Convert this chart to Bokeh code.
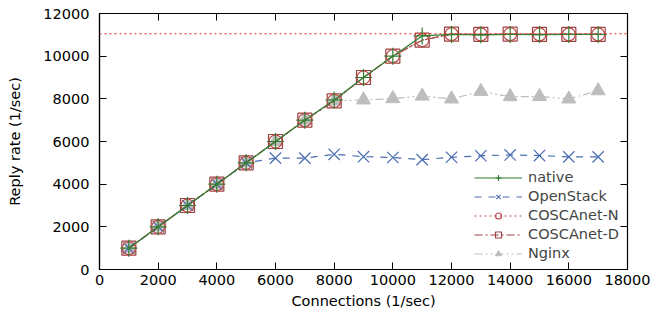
from bokeh.plotting import figure
from bokeh.models import Range1d, LinearAxis, Span, Legend, LegendItem, FixedTicker
from bokeh.embed import file_html
from bokeh.resources import INLINE

connections = [1000, 2000, 3000, 4000, 5000, 6000, 7000, 8000, 9000,
               10000, 11000, 12000, 13000, 14000, 15000, 16000, 17000]
native = [1000, 2000, 3000, 4000, 5000, 6000, 7000, 7950, 9000,
          10000, 10950, 11020, 11000, 11020, 11010, 11020, 11020]
openstack = [1000, 2000, 3000, 4000, 5000, 5220, 5220, 5400, 5290,
             5250, 5150, 5260, 5330, 5370, 5340, 5280, 5280]
coscanet_n = [1000, 2000, 3000, 4000, 5000, 6000, 7000, 7900, 9000,
              10000, 10750, 11030, 11020, 11030, 11020, 11020, 11020]
coscanet_d = [1000, 2000, 3000, 4000, 5000, 6000, 7000, 7900, 9000,
              10000, 10750, 11030, 11020, 11030, 11020, 11020, 11020]
nginx = [1000, 2000, 3000, 4000, 5000, 6000, 7000, 7900, 7950,
         8010, 8130, 7995, 8350, 8100, 8110, 7995, 8380]
capacity = 11050
x_ticks = [0, 2000, 4000, 6000, 8000, 10000, 12000, 14000, 16000, 18000]
y_ticks = [0, 2000, 4000, 6000, 8000, 10000, 12000]

FONT = "DejaVu Sans"
FS = "14.5px"

p = figure(width=652, height=314, output_backend="svg", toolbar_location=None,
           x_range=Range1d(0, 18000), y_range=Range1d(0, 12000),
           min_border_left=99, min_border_right=25, min_border_top=13, min_border_bottom=45)
p.grid.visible = False
p.outline_line_color = "black"
p.outline_line_width = 1.2
p.background_fill_color = "white"
p.border_fill_color = "white"

for ax in (p.xaxis[0], p.yaxis[0]):
    ax.major_tick_in = 7
    ax.major_tick_out = 0
    ax.minor_tick_line_color = None
    ax.axis_line_color = "black"
    ax.axis_line_width = 1.2
    ax.major_tick_line_color = "black"
    ax.major_label_text_font = FONT
    ax.major_label_text_font_size = FS
    ax.major_label_text_color = "black"
    ax.axis_label_text_font = FONT
    ax.axis_label_text_font_size = FS
    ax.axis_label_text_font_style = "normal"
    ax.axis_label_text_color = "black"

p.xaxis[0].ticker = FixedTicker(ticks=x_ticks)
p.yaxis[0].ticker = FixedTicker(ticks=y_ticks)
p.xaxis[0].axis_label = "Connections (1/sec)"
p.yaxis[0].axis_label = "Reply rate (1/sec)"
p.xaxis[0].major_label_standoff = 5
p.yaxis[0].major_label_standoff = 10
p.xaxis[0].axis_label_standoff = 5
p.yaxis[0].axis_label_standoff = 17

top = LinearAxis(ticker=FixedTicker(ticks=x_ticks),
                 major_label_overrides={t: "" for t in x_ticks},
                 major_tick_in=7, major_tick_out=0, minor_tick_line_color=None,
                 axis_line_color="black", major_label_standoff=0)
right = LinearAxis(ticker=FixedTicker(ticks=y_ticks),
                   major_label_overrides={t: "" for t in y_ticks},
                   major_tick_in=7, major_tick_out=0, minor_tick_line_color=None,
                   axis_line_color="black", major_label_standoff=0)
p.add_layout(top, "above")
p.add_layout(right, "right")

p.add_layout(Span(location=capacity, dimension="width", line_color="#ee2222",
                  line_dash="2 3", line_width=1.2))

GREEN = "#2f7d2f"
BLUE = "#4a6db0"
RED = "#b84a4a"
BROWN = "#a04040"
GRAY = "#bdbdbd"

l5 = p.line(connections, nginx, line_color=GRAY, line_width=1.2, line_dash="8 3 2 3 2 3")
m5 = p.scatter(connections, nginx, marker="triangle", size=14, fill_color=GRAY, line_color=GRAY)
l2 = p.line(connections, openstack, line_color=BLUE, line_width=1.2, line_dash="7 7")
m2 = p.scatter(connections, openstack, marker="x", size=16, line_color=BLUE, line_width=1.2)
l4 = p.line(connections, coscanet_d, line_color=BROWN, line_width=1.2, line_dash="8 3 2 3")
m4 = p.scatter(connections, coscanet_d, marker="square", size=14, fill_color=None, line_color=BROWN, line_width=1.2)
l3 = p.line(connections, coscanet_n, line_color=RED, line_width=1.2, line_dash="2 3")
m3 = p.scatter(connections, coscanet_n, marker="circle", size=13, fill_color=None, line_color=RED, line_width=1.2)
l1 = p.line(connections, native, line_color=GREEN, line_width=1.2)
m1 = p.scatter(connections, native, marker="cross", size=17, line_color=GREEN, line_width=1.2)

legend = Legend(items=[
    LegendItem(label="native", renderers=[l1, m1]),
    LegendItem(label="OpenStack", renderers=[l2, m2]),
    LegendItem(label="COSCAnet-N", renderers=[l3, m3]),
    LegendItem(label="COSCAnet-D", renderers=[l4, m4]),
    LegendItem(label="Nginx", renderers=[l5, m5]),
], location="bottom_right", background_fill_alpha=0, border_line_color=None,
    label_text_font=FONT, label_text_font_size=FS, glyph_width=48, glyph_height=15,
    label_height=15, spacing=3, padding=2, margin=8, label_standoff=6)
p.add_layout(legend)

open("out.html", "w").write(file_html(p, INLINE))
